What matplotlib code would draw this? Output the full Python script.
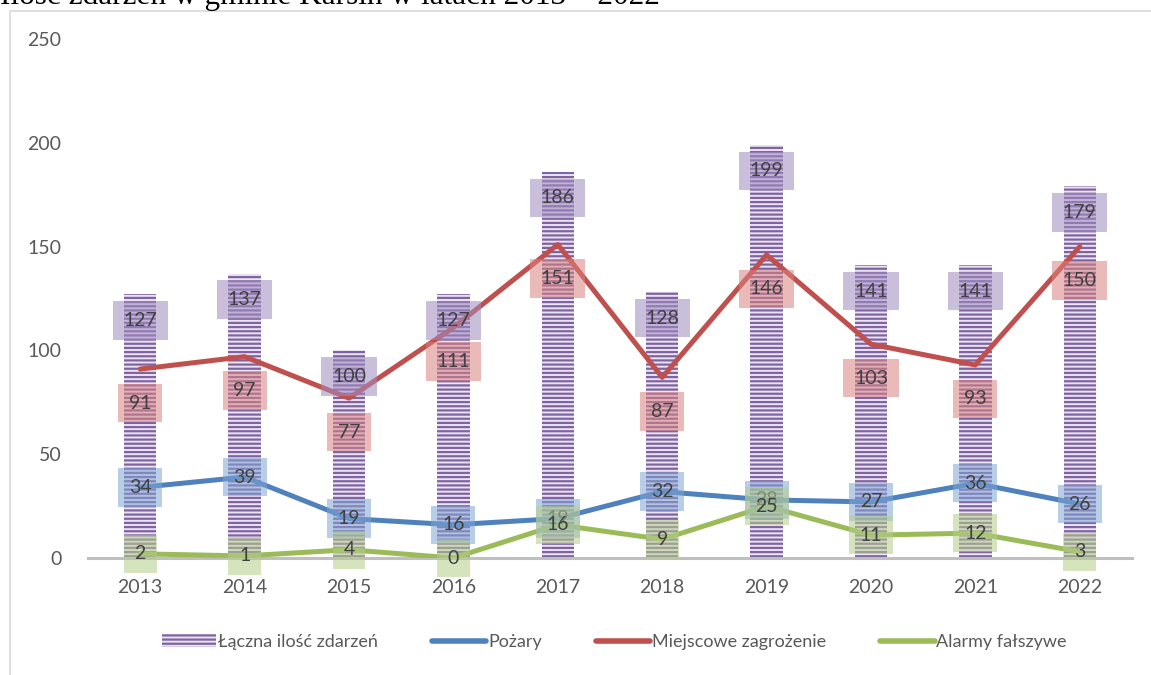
import matplotlib.pyplot as plt
from matplotlib.patches import Patch, Rectangle
from matplotlib.lines import Line2D

plt.rcParams['font.family'] = ['Lato', 'DejaVu Sans']
plt.rcParams['hatch.linewidth'] = 1.6

# data
years = ['2013', '2014', '2015', '2016', '2017', '2018', '2019', '2020', '2021', '2022']
total = [127, 137, 100, 127, 186, 128, 199, 141, 141, 179]
pozary = [34, 39, 19, 16, 19, 32, 28, 27, 36, 26]
miejscowe = [91, 97, 77, 111, 151, 87, 146, 103, 93, 150]
alarmy = [2, 1, 4, 0, 16, 9, 25, 11, 12, 3]

purple = '#8064a2'
blue = '#4f81bd'
red = '#c0504d'
green = '#9bbb59'
txt = '#404040'

fig = plt.figure(figsize=(11.51, 6.75), dpi=100)
ax = fig.add_axes([88 / 1151, 117 / 675, 1044 / 1151, 519 / 675])

x = list(range(len(years)))
ax.bar(x, total, width=0.31, color='#ebe4f3', edgecolor=purple, linewidth=0,
       hatch='----', zorder=1)
ax.plot(x, pozary, color=blue, lw=3.6, zorder=3, solid_capstyle='round')
ax.plot(x, miejscowe, color=red, lw=3.6, zorder=3, solid_capstyle='round')
ax.plot(x, alarmy, color=green, lw=3.6, zorder=3, solid_capstyle='round')


def labels(vals, color, dy):
    for i, v in enumerate(vals):
        ax.annotate(str(v), (i, v), xytext=(0, dy), textcoords='offset pixels',
                    ha='center', va='center', fontsize=14, color=txt, zorder=5,
                    bbox=dict(boxstyle='square,pad=0.55', fc=color, ec='none', alpha=0.55))


labels(total, '#a08cbf', -26)
labels(miejscowe, '#d9827f', -34)
labels(pozary, '#7fa4d3', 0)
labels(alarmy, '#b5cf8a', 0)

ax.set_xlim(-0.5, 9.5)
ax.set_ylim(0, 250)
ax.set_yticks([0, 50, 100, 150, 200, 250])
ax.set_xticks(x)
ax.set_xticklabels(years)
ax.tick_params(length=0, labelsize=14, labelcolor='#595959')
ax.tick_params(axis='y', pad=19)
ax.tick_params(axis='x', pad=15)
for s in ['top', 'right', 'left']:
    ax.spines[s].set_visible(False)
ax.spines['bottom'].set_color('#bfbfbf')
ax.spines['bottom'].set_linewidth(2.2)

handles = [
    Patch(facecolor='#ebe4f3', edgecolor=purple, linewidth=0, hatch='----'),
    Line2D([], [], color=blue, lw=4, solid_capstyle='round'),
    Line2D([], [], color=red, lw=4, solid_capstyle='round'),
    Line2D([], [], color=green, lw=4, solid_capstyle='round'),
]
names = ['Łączna ilość zdarzeń', 'Pożary', 'Miejscowe zagrożenie', 'Alarmy fałszywe']
fig.legend(handles, names, loc='center', bbox_to_anchor=(0.534, 33 / 675), ncol=4,
           frameon=False, fontsize=13, labelcolor='#595959', handlelength=3.0,
           handletextpad=0.1, columnspacing=3.0)

# chart area frame, cut by the page
fig.patches.append(Rectangle((10 / 1151, -0.05), 1.1, 1 - 11 / 675 + 0.05,
                             transform=fig.transFigure, fill=False,
                             ec='#d9d9d9', lw=1.2))
fig.text(0.0, 1 - 4 / 675, 'Ilość zdarzeń w gminie Karsin w latach 2013 – 2022',
         family='Liberation Serif', fontsize=22.5, va='baseline', color='black')

fig.savefig('out.png', dpi=100)
